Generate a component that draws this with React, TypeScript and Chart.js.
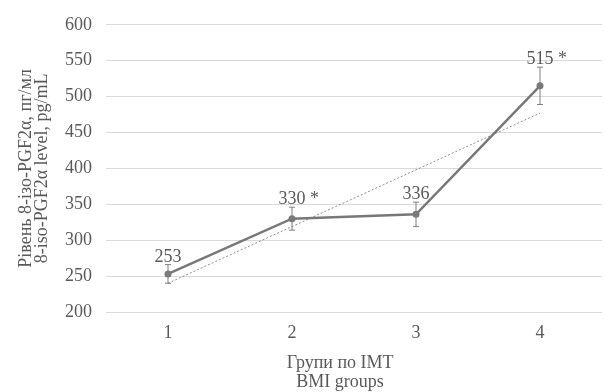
import React, { useEffect, useRef } from 'react';
import { Chart, registerables } from 'chart.js';

Chart.register(...registerables);

const groups = ['1', '2', '3', '4'];
const means = [253, 330, 336, 515];
const errors = [13, 16, 17, 26];
const stars = ['', '*', '', '*'];
const trendEnds = [240, null, null, 477];
const yTitle = ['Рівень 8-ізо-PGF2α, пг/мл', '8-iso-PGF2α level, pg/mL'];
const xTitle = ['Групи по IMT', 'BMI groups'];

const FONT = '"Liberation Serif", "Times New Roman", serif';
const TEXT = '#595959';
const LINE = '#787878';

const errorBarPlugin = {
  id: 'errorBarsAndLabels',
  afterDatasetsDraw(chart: any) {
    const meta = chart.getDatasetMeta(0);
    const yScale = chart.scales.y;
    const ctx = chart.ctx;
    ctx.save();
    meta.data.forEach((pt: any, i: number) => {
      const x = pt.x;
      const top = yScale.getPixelForValue(means[i] + errors[i]);
      const bot = yScale.getPixelForValue(means[i] - errors[i]);
      ctx.strokeStyle = '#7f7f7f';
      ctx.lineWidth = 1;
      ctx.beginPath();
      ctx.moveTo(x, top);
      ctx.lineTo(x, bot);
      ctx.moveTo(x - 3, top);
      ctx.lineTo(x + 3, top);
      ctx.moveTo(x - 3, bot);
      ctx.lineTo(x + 3, bot);
      ctx.stroke();
      ctx.font = '18px ' + FONT;
      ctx.fillStyle = TEXT;
      ctx.textAlign = 'left';
      ctx.textBaseline = 'alphabetic';
      const num = String(means[i]);
      const w = ctx.measureText(num).width;
      ctx.fillText(stars[i] ? num + ' ' + stars[i] : num, x - w / 2, top - 3);
    });
    // x axis title (centred like the original, slightly left of the plot centre)
    ctx.font = '18px ' + FONT;
    ctx.fillStyle = TEXT;
    ctx.textAlign = 'center';
    ctx.textBaseline = 'middle';
    const cx = chart.chartArea.left + (chart.chartArea.right - chart.chartArea.left) * 0.472;
    xTitle.forEach((line, i) => {
      ctx.fillText(line, cx, 363 + i * 19);
    });
    ctx.restore();
  },
};

export default function App() {
  const ref = useRef<HTMLCanvasElement | null>(null);
  useEffect(() => {
    if (!ref.current) return;
    const chart = new Chart(ref.current, {
      type: 'line',
      data: {
        labels: groups,
        datasets: [
          {
            data: means,
            borderColor: LINE,
            backgroundColor: LINE,
            borderWidth: 2.5,
            pointRadius: 3.5,
            pointBackgroundColor: LINE,
            pointBorderWidth: 0,
            tension: 0,
            order: 0,
          },
          {
            data: trendEnds as any,
            borderColor: '#8c8c8c',
            borderWidth: 1,
            borderDash: [2, 2],
            pointRadius: 0,
            spanGaps: true,
            tension: 0,
            order: 1,
          },
        ],
      },
      options: {
        animation: false,
        responsive: false,
        layout: { padding: { top: 21, right: 0, left: 0, bottom: 0 } },
        plugins: {
          legend: { display: false },
          tooltip: { enabled: false },
        },
        scales: {
          x: {
            type: 'category',
            offset: true,
            grid: { display: false, drawTicks: false },
            border: { display: false },
            ticks: { font: { family: FONT, size: 18 }, color: TEXT, padding: 10 },
            title: { display: false },
            afterFit: (s: any) => {
              s.height = 80;
            },
          },
          y: {
            min: 200,
            max: 600,
            ticks: { stepSize: 50, font: { family: FONT, size: 18 }, color: TEXT, padding: 14 },
            grid: { color: '#d9d9d9', drawTicks: false, lineWidth: 1 },
            border: { display: false },
            title: {
              display: true,
              text: yTitle,
              color: TEXT,
              font: { family: FONT, size: 18, lineHeight: 16 / 18 },
              padding: { top: 18, bottom: 0 },
            },
            afterFit: (s: any) => {
              s.width = 106;
            },
          },
        },
      },
      plugins: [errorBarPlugin],
    });
    return () => chart.destroy();
  }, []);
  return (
    <div style={{ position: 'absolute', left: 0, top: 0, width: 606, height: 392 }}>
      <canvas ref={ref} width={606} height={392} />
    </div>
  );
}
